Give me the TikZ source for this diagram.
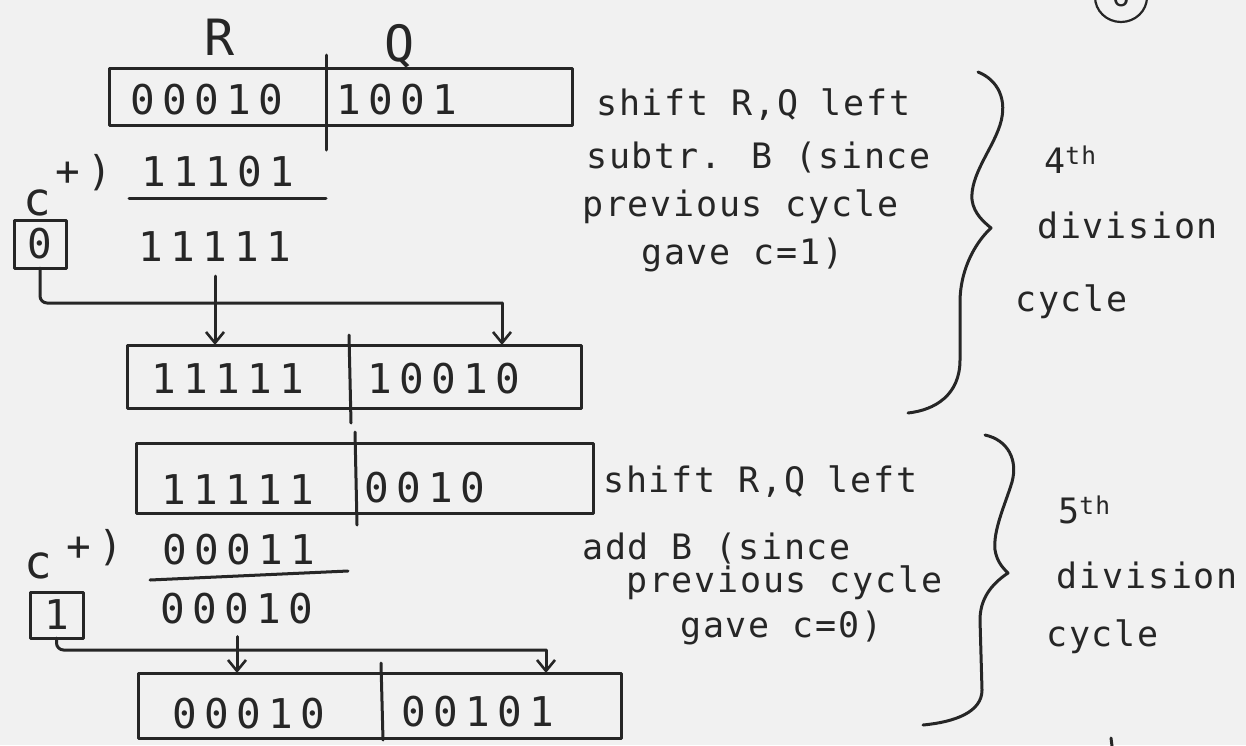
\documentclass[tikz,border=0pt]{standalone}
\usepackage{fontspec}
\newfontfamily\hand[LetterSpace=18]{DejaVu Sans Mono}
\newfontfamily\handtxt[LetterSpace=5]{DejaVu Sans Mono}
\usetikzlibrary{arrows.meta}
\definecolor{ink}{RGB}{38,38,38}
\definecolor{paper}{RGB}{241,241,241}
\begin{document}
\begin{tikzpicture}[x=1pt,y=-1pt,
  pen/.style={draw=ink, line width=3pt, line cap=round, line join=round},
  reg/.style={pen, rectangle, inner sep=0pt, outer sep=0pt},
  conn/.style={pen, rounded corners=7pt},
  arr/.style={pen, -{Straight Barb[length=11pt,width=18pt,line width=2.6pt]}},
  txt/.style={font=\handtxt\fontsize{35}{40}\selectfont, text=ink, inner sep=0pt, anchor=west},
  dig/.style={font=\hand\fontsize{41}{45}\selectfont, text=ink, inner sep=0pt},
  carry/.style={font=\hand\fontsize{46}{50}\selectfont, text=ink, inner sep=0pt},
  big/.style={font=\hand\fontsize{50}{54}\selectfont, text=ink, inner sep=0pt}]
\useasboundingbox (0,0) rectangle (1246,745);
\fill[paper] (0,0) rectangle (1246,745);
\clip (0,0) rectangle (1246,745);

% page number
\draw[pen, line width=2.2pt] (1121,-3) ellipse [x radius=26, y radius=25];
\node[font=\hand\fontsize{30}{34}\selectfont, text=ink] (pg) at (1121,-4) {6};

% ---------- 4th cycle ----------
\node[big] (lR) at (220,37) {R};
\node[big] (lQ) at (400,46) {Q};
\node[reg, minimum width=463pt, minimum height=57pt] (box1) at (340.5,96.5) {};
\draw[pen] (326,55) -- (326,150);
\node[dig] (b1r) at (207,100) {00010};
\node[dig] (b1q) at (397,100) {1001};

\node[dig] (op1) at (84,173) {+)};
\node[dig] (a1) at (218,172) {11101};
\draw[pen] (129,198) -- (326,198);
\node[dig] (s1) at (215,247) {11111};

\node[carry] (c1) at (37,203) {c};
\node[reg, minimum width=52pt, minimum height=48pt] (cb1) at (40,244) {};
\node[dig] (cv1) at (40,244) {0};

\node[reg, minimum width=454pt, minimum height=63pt] (box2) at (354,376.5) {};
\draw[pen] (349,335) -- (351,423);
\node[dig] (b2r) at (228,379) {11111};
\node[dig] (b2q) at (444,379) {10010};

\coordinate (k1) at (502,303);
\draw[conn] (cb1.south) |- (k1);
\draw[arr] (k1) -- (k1 |- box2.north);
\draw[arr] ([yshift=-14pt]s1.south) -- (s1.south |- box2.north);

\node[txt] (t1a) at (596,105) {shift R,Q left};
\node[txt] (t1b) at (586,158) {subtr. B (since};
\node[txt] (t1c) at (582,207) {previous cycle};
\node[txt] (t1d) at (641,255) {gave c=1)};

\draw[pen] (978,72) .. controls (998,80) and (1008,100) .. (1000,125)
  .. controls (992,150) and (970,175) .. (972,200)
  .. controls (974,214) and (984,222) .. (991,228)
  .. controls (978,240) and (961,265) .. (960,300)
  -- (960,360) .. controls (960,395) and (935,410) .. (908,413);

\node[txt] (n4) at (1044,160) {4\textsuperscript{th}};
\node[txt] (d4) at (1037,225) {division};
\node[txt] (y4) at (1015,302) {cycle};

% ---------- 5th cycle ----------
\node[reg, minimum width=457pt, minimum height=70pt] (box3) at (364.5,478) {};
\draw[pen] (355,432) -- (357,525);
\node[dig] (b3r) at (238,490) {11111};
\node[dig] (b3q) at (425,488) {0010};

\node[dig] (op2) at (95,548) {+)};
\node[dig] (a2) at (239,550) {00011};
\draw[pen] (150,580) -- (348,571);
\node[dig] (s2) at (237,609) {00010};

\node[carry] (c2) at (38,566) {c};
\node[reg, minimum width=53pt, minimum height=46pt] (cb2) at (56.5,615) {};
\node[dig] (cv2) at (56.5,615) {1};

\node[reg, minimum width=483pt, minimum height=65pt] (box4) at (379.5,705.5) {};
\draw[pen] (381,663) -- (383,740);
\node[dig] (b4r) at (249,714) {00010};
\node[dig] (b4q) at (478,712) {00101};

\coordinate (k2) at (546,650);
\draw[conn] (cb2.south) |- (k2);
\draw[arr] (k2) -- (k2 |- box4.north);
\draw[arr] ([yshift=-12pt]s2.south) -- (s2.south |- box4.north);

\node[txt] (t2a) at (603,482) {shift R,Q left};
\node[txt] (t2b) at (582,548) {add B (since};
\node[txt] (t2c) at (626,583) {previous cycle};
\node[txt] (t2d) at (680,628) {gave c=0)};

\draw[pen] (985,435) .. controls (1008,440) and (1018,460) .. (1012,482)
  .. controls (1005,505) and (993,530) .. (995,550)
  .. controls (997,562) and (1003,568) .. (1008,573)
  .. controls (990,585) and (980,600) .. (980,620)
  -- (982,690) .. controls (982,712) and (955,722) .. (923,725);

\node[txt] (n5) at (1058,510) {5\textsuperscript{th}};
\node[txt, anchor=east] (d5) at (1238,575) {division};
\node[txt] (y5) at (1046,637) {cycle};

\draw[pen] (1111,738) -- (1112,746);
\end{tikzpicture}
\end{document}
